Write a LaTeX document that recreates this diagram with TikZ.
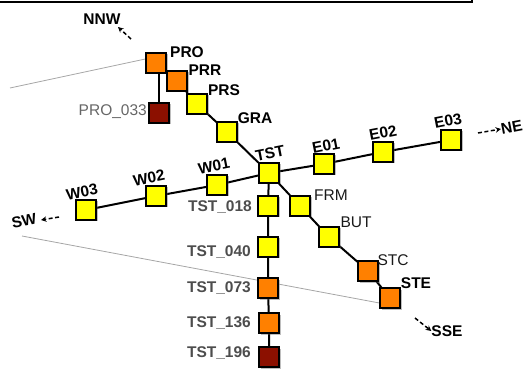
\documentclass[tikz,border=0pt]{standalone}
\usepackage{fontspec}
\setmainfont{Liberation Sans}
\usetikzlibrary{shadows,arrows.meta}
\definecolor{cyel}{HTML}{FFFF00}
\definecolor{corg}{HTML}{FF8000}
\definecolor{cred}{HTML}{8C1000}
\definecolor{cgraytxt}{HTML}{4D4D4D}
\begin{document}
\begin{tikzpicture}[x=1pt,y=-1pt,
  sq/.style={draw=black,line width=1.3pt,minimum size=20pt,inner sep=0pt,
    drop shadow={shadow xshift=1.5pt,shadow yshift=-1.5pt,opacity=0.3}},
  ys/.style={sq,fill=cyel},
  os/.style={sq,fill=corg},
  rs/.style={sq,fill=cred},
  conn/.style={line width=2pt,black},
  thinline/.style={line width=0.8pt,gray!70},
  lb/.style={font=\fontsize{15.5}{17}\selectfont\bfseries,inner sep=0pt,text=black},
  lr/.style={font=\fontsize{15.5}{17}\selectfont,inner sep=0pt,text=black!90},
  lg/.style={font=\fontsize{15.5}{17}\selectfont\bfseries,inner sep=0pt,text=cgraytxt},
  lgr/.style={font=\fontsize{15.5}{17}\selectfont,inner sep=0pt,text=black!60},
  dirarrow/.style={line width=1.5pt,dash pattern=on 4pt off 2.5pt,-{Stealth[length=5.5pt,width=5.5pt]}}
]
\useasboundingbox (0,0) rectangle (527,371);
% top frame
\draw[line width=1.2pt] (-2,2) -- (472,2) -- (472,-3);

% thin gray lines
\coordinate (g1) at (10,88);
\coordinate (g2) at (22,236);

% boxes
\node[os] (PRO) at (156,63) {};
\node[os] (PRR) at (177,81) {};
\node[ys] (PRS) at (197,104) {};
\node[rs] (PRO033) at (159,113) {};
\node[ys] (GRA) at (227,132) {};
\node[ys] (TST) at (269,173) {};
\node[ys] (E01) at (324,164) {};
\node[ys] (E02) at (383,152) {};
\node[ys] (E03) at (451,140) {};
\node[ys] (W01) at (217,185) {};
\node[ys] (W02) at (156,196) {};
\node[ys] (W03) at (86,210) {};
\node[ys] (T018) at (268,206) {};
\node[ys] (FRM) at (300,206) {};
\node[ys] (BUT) at (329,237) {};
\node[ys] (T040) at (268,247) {};
\node[os] (STC) at (368,271) {};
\node[os] (STE) at (390,298) {};
\node[os] (T073) at (268,288) {};
\node[os] (T136) at (269,323) {};
\node[rs] (T196) at (269,357) {};

% connectors
\draw[thinline] (g1) -- ([yshift=4pt]PRO.west);
\draw[thinline] (g2) -- ([yshift=-5pt]STE.west);
\draw[conn] (W03) -- (W02) -- (W01) -- (TST) -- (E01) -- (E02) -- (E03);
\draw[conn] (PRO) -- (PRR) -- (PRS) -- (GRA) -- (TST) -- (FRM) -- (BUT) -- (STC) -- (STE);
\draw[conn] (PRO033.north) -- (PRO033 |- PRO.south);
\draw[conn] (TST) -- (T018) -- (T040) -- (T073) -- (T136) -- (T196);

% redraw boxes on top of connectors
\foreach \n/\s in {PRO/os,PRR/os,PRS/ys,PRO033/rs,GRA/ys,TST/ys,E01/ys,E02/ys,E03/ys,W01/ys,W02/ys,W03/ys,T018/ys,FRM/ys,BUT/ys,T040/ys,STC/os,STE/os,T073/os,T136/os,T196/rs}
  \node[\s] at (\n) {};

% labels
\node[lb] (lPRO) at (187,52) {PRO};
\node[lb] (lPRR) at (205,70) {PRR};
\node[lb] (lPRS) at (224,90) {PRS};
\node[lb] (lGRA) at (255,118) {GRA};
\node[lgr,anchor=east] (lP033) at (147,112) {PRO\_033};
\node[lb,rotate=11] (lTST) at (270,153) {TST};
\node[lb,rotate=11] (lE01) at (326,146) {E01};
\node[lb,rotate=11] (lE02) at (383,133) {E02};
\node[lb,rotate=11] (lE03) at (448,121) {E03};
\node[lb,rotate=11] (lW01) at (214,166) {W01};
\node[lb,rotate=11] (lW02) at (149,178) {W02};
\node[lb,rotate=11] (lW03) at (82,192) {W03};
\node[lr] (lFRM) at (331,195) {FRM};
\node[lr] (lBUT) at (356,222) {BUT};
\node[lr] (lSTC) at (393,260) {STC};
\node[lb] (lSTE) at (416,283) {STE};
\node[lg,anchor=east] (l018) at (252,207) {TST\_018};
\node[lg,anchor=east] (l040) at (251,252) {TST\_040};
\node[lg,anchor=east] (l073) at (251,288) {TST\_073};
\node[lg,anchor=east] (l136) at (251,323) {TST\_136};
\node[lg,anchor=east] (l196) at (251,353) {TST\_196};

% directions
\node[lb] (NNW) at (102,19) {NNW};
\coordinate (aNNW) at (131,39);
\draw[dirarrow] (aNNW) -- (118,27);
\node[lb,rotate=11] (SW) at (24,221) {SW};
\coordinate (aSW) at (59,217);
\draw[dirarrow] (aSW) -- (41,220);
\node[lb,rotate=11,anchor=west] (NE) at (501,129) {NE};
\coordinate (aNE) at (478,133);
\draw[dirarrow] (aNE) -- (NE.west);
\node[lb] (SSE) at (447,331) {SSE};
\coordinate (aSSE) at (415,318);
\draw[dirarrow] (aSSE) -- (SSE.west);
\end{tikzpicture}
\end{document}
